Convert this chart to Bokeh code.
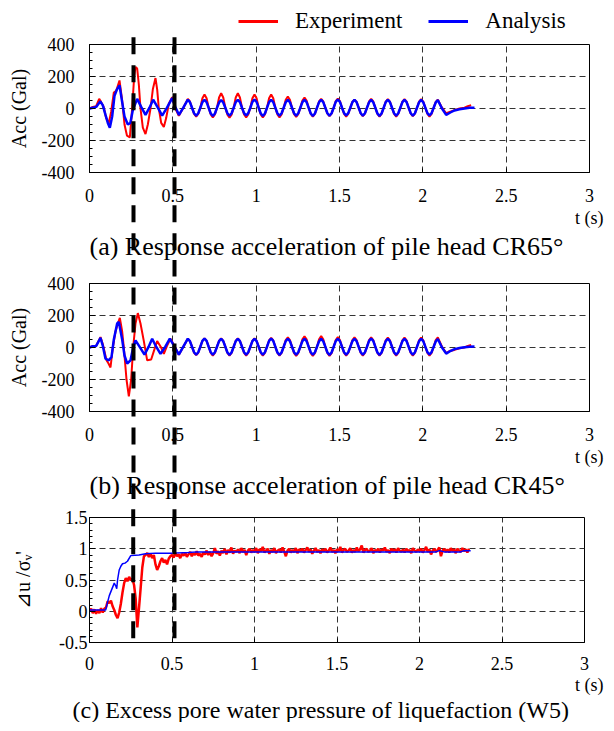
import numpy as np
from bokeh.plotting import figure
from bokeh.models import (Range1d, FixedTicker, Title, Legend, LegendItem,
                          CustomJSTickFormatter)
from bokeh.layouts import column
from bokeh.embed import file_html
from bokeh.resources import INLINE

# ---------------- data ----------------
x_ticks = [0, 0.5, 1, 1.5, 2, 2.5, 3]
x_tick_labels = ["0", "0.5", "1", "1.5", "2", "2.5", "3"]
acc_ticks = [-400, -200, 0, 200, 400]
acc_tick_labels = ["-400", "-200", "0", "200", "400"]
pwp_ticks = [-0.5, 0, 0.5, 1, 1.5]
pwp_tick_labels = ["-0.5", "0", "0.5", "1", "1.5"]

series_names = ["Experiment", "Analysis"]
captions = ["(a) Response acceleration of pile head CR65°",
            "(b) Response acceleration of pile head CR45°",
            "(c) Excess pore water pressure of liquefaction (W5)"]
acc_label = "Acc (Gal)"
pwp_label = "\u22bfu /\u03c3\u1d65'"
time_label = "t (s)"

# times of the two marked instants (s), per panel
marker_t_ab = [0.264, 0.51]
marker_t_c = [0.265, 0.515]

# steady-vibration sampling instants (s): 0.59 ... 2.09
t_cyc = [round(0.59 + 0.0125 * k, 4) for k in range(121)]

# panel (a) experiment
a_exp_head_t = [0.0, 0.02, 0.04, 0.058, 0.07, 0.085, 0.1, 0.116, 0.13, 0.146,
                0.16, 0.166, 0.18, 0.196, 0.21, 0.225, 0.242, 0.256, 0.268, 0.276,
                0.286, 0.296, 0.306, 0.32, 0.336, 0.35, 0.366, 0.38, 0.396, 0.406,
                0.416, 0.43, 0.446, 0.46, 0.476, 0.496, 0.515, 0.536, 0.563]
a_exp_head_v = [0, 10, 15, 60, 40, 10, -60, -90, -20, 100,
                110, 130, 175, 50, -100, -170, -180, 0, 200, 260,
                250, 150, 0, -120, -160, -100, 0, 120, 190, 120,
                0, -90, -115, -60, 30, 70, 0, -45, 5]
a_exp_cyc = [60, 44, 5, -34, -50, -34, 5, 64,
             88, 64, 5, -37, -55, -37, 5, 69,
             95, 69, 5, -39, -58, -39, 5, 69,
             95, 69, 5, -37, -55, -37, 5, 64,
             88, 64, 5, -37, -55, -37, 5, 64,
             88, 64, 5, -37, -55, -37, 5, 55,
             75, 55, 5, -35, -52, -35, 5, 50,
             68, 50, 5, -34, -50, -34, 5, 44,
             60, 44, 5, -32, -48, -32, 5, 46,
             62, 46, 5, -34, -50, -34, 5, 41,
             56, 41, 5, -32, -48, -32, 5, 44,
             60, 44, 5, -34, -50, -34, 5, 43,
             58, 43, 5, -34, -50, -34, 5, 43,
             58, 43, 5, -32, -48, -32, 5, 43,
             58, 43, 5, -34, -50, -34, 5, 41,
             55]
a_exp_tail_t = [2.115, 2.14, 2.165, 2.19, 2.22, 2.25, 2.27, 2.29]
a_exp_tail_v = [5, -30, -20, -10, 0, 5, 15, 20]

# panel (a) analysis
a_ana_head_t = [0.0, 0.02, 0.04, 0.065, 0.08, 0.096, 0.11, 0.122, 0.136, 0.15,
                0.165, 0.18, 0.196, 0.21, 0.23, 0.245, 0.26, 0.286, 0.31, 0.336,
                0.36, 0.382, 0.41, 0.436, 0.465, 0.496, 0.515, 0.537, 0.563]
a_ana_head_v = [0, 5, 10, 45, 20, -40, -90, -120, -50, 80,
                120, 145, 40, -50, -100, -90, -10, 60, 10, -40,
                5, 55, 5, -45, 5, 65, 10, -40, 5]
a_ana_cyc = [55, 40, 5, -30, -45, -30, 5, 40,
             55, 40, 5, -31, -46, -31, 5, 38,
             52, 38, 5, -30, -45, -30, 5, 40,
             55, 40, 5, -29, -44, -29, 5, 41,
             56, 41, 5, -31, -46, -31, 5, 40,
             55, 40, 5, -30, -45, -30, 5, 39,
             54, 39, 5, -30, -45, -30, 5, 40,
             55, 40, 5, -31, -46, -31, 5, 40,
             55, 40, 5, -30, -45, -30, 5, 41,
             56, 41, 5, -29, -44, -29, 5, 40,
             55, 40, 5, -30, -45, -30, 5, 39,
             54, 39, 5, -31, -46, -31, 5, 40,
             55, 40, 5, -30, -45, -30, 5, 40,
             55, 40, 5, -30, -45, -30, 5, 39,
             54, 39, 5, -29, -44, -29, 5, 38,
             52]
a_ana_tail_t = [2.115, 2.14, 2.165, 2.19, 2.22, 2.25, 2.28, 2.31]
a_ana_tail_v = [0, -40, -25, -12, -5, 0, 4, 5]

# panel (b) experiment
b_exp_head_t = [0.0, 0.02, 0.04, 0.066, 0.08, 0.102, 0.114, 0.126, 0.14, 0.156,
                0.17, 0.182, 0.196, 0.206, 0.222, 0.236, 0.25, 0.262, 0.276, 0.29,
                0.306, 0.326, 0.346, 0.37, 0.39, 0.406, 0.43, 0.446, 0.465, 0.486,
                0.51, 0.536, 0.563]
b_exp_head_v = [0, 10, 10, 65, 20, -80, -100, -125, 0, 100,
                150, 185, 100, 0, -200, -305, -200, 0, 150, 215,
                150, 40, -80, -75, -10, 40, 0, -40, 10, 55,
                10, -45, 5]
b_exp_cyc = [55, 40, 5, -33, -48, -33, 5, 41,
             57, 41, 5, -34, -50, -34, 5, 41,
             57, 41, 5, -34, -50, -34, 5, 41,
             57, 41, 5, -34, -50, -34, 5, 41,
             57, 41, 5, -34, -50, -34, 5, 44,
             60, 44, 5, -34, -50, -34, 5, 46,
             63, 46, 5, -35, -52, -35, 5, 51,
             70, 51, 5, -35, -52, -35, 5, 52,
             72, 52, 5, -35, -52, -35, 5, 47,
             65, 47, 5, -34, -50, -34, 5, 46,
             63, 46, 5, -34, -50, -34, 5, 46,
             63, 46, 5, -34, -50, -34, 5, 45,
             62, 45, 5, -34, -50, -34, 5, 45,
             62, 45, 5, -34, -50, -34, 5, 45,
             62, 45, 5, -34, -50, -34, 5, 46,
             63]
b_exp_tail_t = [2.115, 2.14, 2.165, 2.19, 2.22, 2.25, 2.27, 2.29]
b_exp_tail_v = [5, -35, -20, -15, -5, 0, 10, 16]

# panel (b) analysis
b_ana_head_t = [0.0, 0.02, 0.04, 0.066, 0.08, 0.096, 0.116, 0.132, 0.146, 0.166,
                0.176, 0.196, 0.21, 0.226, 0.246, 0.262, 0.276, 0.3, 0.33, 0.355,
                0.376, 0.4, 0.426, 0.455, 0.482, 0.51, 0.536, 0.563]
b_ana_head_v = [0, 8, 10, 60, 10, -70, -80, -60, 50, 150,
                160, 50, -50, -100, -80, 0, 45, 5, -45, 5,
                55, 5, -40, 5, 55, 5, -45, 5]
b_ana_cyc = [55, 40, 5, -30, -45, -30, 5, 41,
             56, 41, 5, -30, -45, -30, 5, 40,
             55, 40, 5, -31, -46, -31, 5, 40,
             55, 40, 5, -30, -45, -30, 5, 40,
             55, 40, 5, -30, -45, -30, 5, 41,
             56, 41, 5, -31, -46, -31, 5, 40,
             55, 40, 5, -30, -45, -30, 5, 40,
             55, 40, 5, -30, -45, -30, 5, 39,
             54, 39, 5, -31, -46, -31, 5, 40,
             55, 40, 5, -30, -45, -30, 5, 40,
             55, 40, 5, -30, -45, -30, 5, 41,
             56, 41, 5, -31, -46, -31, 5, 40,
             55, 40, 5, -30, -45, -30, 5, 40,
             55, 40, 5, -30, -45, -30, 5, 40,
             55, 40, 5, -29, -44, -29, 5, 38,
             53]
b_ana_tail_t = [2.115, 2.14, 2.165, 2.19, 2.22, 2.25, 2.28, 2.31]
b_ana_tail_v = [0, -38, -22, -10, -3, 2, 5, 6]

# panel (c) analysis
c_ana_t = [0.0, 0.098, 0.11, 0.12, 0.135, 0.15, 0.16, 0.165, 0.17, 0.18,
           0.19, 0.2, 0.215, 0.23, 0.25, 0.3, 0.34, 0.4, 0.5, 0.6,
           0.65, 0.8, 1.0, 1.5, 2.0, 2.1, 2.12, 2.15, 2.25, 2.27, 2.31]
c_ana_v = [0.02, 0.02, 0.15, 0.25, 0.35, 0.45, 0.4, 0.36, 0.5, 0.66,
           0.72, 0.76, 0.77, 0.8, 0.89, 0.9, 0.92, 0.93, 0.93, 0.94,
           0.95, 0.95, 0.95, 0.95, 0.95, 0.95, 0.97, 0.95, 0.95, 0.97, 0.97]

# panel (c) experiment, sampled every 0.01 s from 0 to 2.30 s
c_exp_t = [round(0.01 * k, 2) for k in range(231)]
c_exp_v = [
    0.00, 0.04, -0.03, 0.03, -0.04, 0.02, -0.03, 0.05, -0.02, 0.04,
    0.06, 0.16, 0.13, 0.17, 0.08, 0.02, -0.06, -0.11, -0.02, 0.12,
    0.30, 0.45, 0.53, 0.48, 0.55, 0.50, 0.52, 0.42, 0.20, -0.26,
    0.05, 0.37, 0.70, 0.88, 0.90, 0.93, 0.87, 0.92, 0.85, 0.90,
    0.75, 0.66, 0.72, 0.80, 0.85, 0.78, 0.82, 0.75, 0.84, 0.88,
    0.90, 0.86, 0.93, 0.88, 0.91, 0.85, 0.92, 0.89, 0.94, 0.87,
    0.91, 0.95, 0.88, 0.93, 0.90, 0.96, 0.89, 0.92, 0.87, 0.94,
    0.91, 0.97, 0.90, 0.95, 0.88, 0.93, 1.01, 0.92, 0.96, 0.89,
    0.97, 0.93, 1.00, 0.91, 0.98, 0.94, 1.02, 0.92, 0.97, 0.95,
    0.99, 0.93, 1.01, 0.95, 0.98, 0.90, 0.97, 1.00, 0.94, 0.98,
    0.95, 1.01, 0.93, 0.99, 0.96, 1.03, 0.94, 0.97, 1.00, 0.92,
    0.98, 0.95, 1.01, 0.93, 0.97, 0.99, 0.94, 1.02, 0.96, 0.88,
    0.97, 1.00, 0.94, 0.98, 0.95, 1.01, 0.93, 0.99, 0.96, 1.00,
    0.94, 0.98, 1.02, 0.95, 0.99, 0.92, 0.97, 1.01, 0.95, 0.98,
    0.93, 0.99, 0.96, 1.00, 0.94, 0.97, 1.02, 0.95, 0.98, 0.93,
    0.99, 0.96, 1.03, 0.94, 0.98, 1.00, 0.95, 0.97, 1.01, 0.94,
    0.98, 0.95, 1.02, 0.96, 0.99, 1.05, 0.94, 0.98, 1.00, 0.95,
    0.97, 1.01, 0.93, 0.98, 0.96, 1.00, 0.94, 0.99, 0.97, 1.02,
    0.95, 0.98, 0.93, 1.00, 0.96, 0.99, 0.94, 1.01, 0.97, 0.95,
    0.99, 0.94, 1.00, 0.96, 0.98, 0.93, 1.01, 0.97, 0.95, 0.99,
    0.96, 1.00, 0.94, 0.98, 1.03, 0.95, 0.99, 0.91, 0.97, 1.00,
    0.95, 0.98, 1.02, 0.88, 0.97, 1.00, 0.95, 0.99, 0.94, 1.01,
    0.96, 0.99, 0.93, 1.00, 0.97, 0.95, 1.01, 0.96, 0.99, 0.94,
    1.00]

# ---------------- styling ----------------
FONT = "Liberation Serif"
RED = "#ff0000"
BLUE = "#0000ff"
GRID = "#333333"
LEFT = 89

a_exp_t = a_exp_head_t + t_cyc + a_exp_tail_t
a_exp_v = a_exp_head_v + a_exp_cyc + a_exp_tail_v
a_ana_t = a_ana_head_t + t_cyc + a_ana_tail_t
a_ana_v = a_ana_head_v + a_ana_cyc + a_ana_tail_v


def make_panel(frame_w, frame_h, right, top, bottom,
               y_lo, y_hi, y_ticks, y_tick_labels, y_minor, ylabel,
               ylabel_standoff, ytick_standoff, xtick_standoff):
    p = figure(frame_width=frame_w, frame_height=frame_h,
               min_border_left=LEFT, min_border_right=right,
               min_border_top=top, min_border_bottom=bottom,
               x_range=Range1d(0, 3), y_range=Range1d(y_lo, y_hi),
               output_backend="svg", toolbar_location=None,
               background_fill_color="white", border_fill_color="white")
    p.outline_line_color = "black"
    p.outline_line_width = 1
    p.outline_line_alpha = 1

    fmt = CustomJSTickFormatter(code="return String(tick)")
    xt = FixedTicker(ticks=x_ticks)
    p.xaxis.ticker = xt
    p.xaxis.formatter = fmt
    p.xaxis.major_label_overrides = {t: l for t, l in zip(x_ticks, x_tick_labels)}
    p.xaxis.major_tick_in = 4
    p.xaxis.major_tick_out = 0
    p.xaxis.minor_tick_line_color = None
    p.xaxis.major_label_standoff = xtick_standoff
    p.xaxis.major_label_text_font = FONT
    p.xaxis.major_label_text_font_size = "18px"
    p.xaxis.major_label_text_color = "black"
    p.xaxis.axis_line_color = "black"

    yt = FixedTicker(ticks=y_ticks, minor_ticks=y_minor)
    p.yaxis.ticker = yt
    p.yaxis.formatter = fmt
    p.yaxis.major_label_overrides = {t: l for t, l in zip(y_ticks, y_tick_labels)}
    p.yaxis.major_tick_in = 6
    p.yaxis.major_tick_out = 0
    p.yaxis.minor_tick_in = 3
    p.yaxis.minor_tick_out = 0
    p.yaxis.major_label_standoff = ytick_standoff
    p.yaxis.major_label_text_font = FONT
    p.yaxis.major_label_text_font_size = "18px"
    p.yaxis.major_label_text_color = "black"
    p.yaxis.axis_line_color = "black"
    p.yaxis.axis_label = ylabel
    p.yaxis.axis_label_text_font = FONT
    p.yaxis.axis_label_text_font_size = "20px"
    p.yaxis.axis_label_text_font_style = "normal"
    p.yaxis.axis_label_text_color = "black"
    p.yaxis.axis_label_standoff = ylabel_standoff

    p.xgrid.ticker = xt
    p.ygrid.ticker = yt
    for g in (p.xgrid, p.ygrid):
        g.grid_line_color = GRID
        g.grid_line_dash = "6 4"
        g.grid_line_width = 1
    return p


def add_texts(p, caption, cap_offset, cap_size, ts_offset, ts_standoff):
    p.add_layout(Title(text=time_label, align="right", offset=ts_offset,
                       standoff=ts_standoff, text_font=FONT, text_font_size="18px",
                       text_font_style="normal", text_color="black"), "below")
    p.add_layout(Title(text=caption, align="left", offset=cap_offset,
                       standoff=0, text_font=FONT, text_font_size=cap_size,
                       text_font_style="normal", text_color="black"), "below")


def add_markers(p, ts, y0, y1):
    p.segment(x0=ts, y0=[y0] * len(ts), x1=ts, y1=[y1] * len(ts),
              line_color="black", line_width=4, line_dash="17 11",
              level="overlay")


acc_minor = list(np.arange(-400, 401, 50))
pwp_minor = list(np.round(np.arange(-0.5, 1.51, 0.1), 2))

# ---------------- legend strip (keys reuse panel (a) series, kept out of view) ----
pl = figure(frame_width=500, frame_height=36, min_border_left=LEFT,
            min_border_right=20, min_border_top=0, min_border_bottom=0,
            x_range=Range1d(10, 11), y_range=Range1d(5000, 6000),
            x_axis_location=None, y_axis_location=None,
            output_backend="svg", toolbar_location=None,
            background_fill_color="white", border_fill_color="white")
pl.outline_line_color = None
pl.xgrid.visible = False
pl.ygrid.visible = False
key_exp = pl.line(a_exp_t, a_exp_v, line_color=RED, line_width=3)
key_ana = pl.line(a_ana_t, a_ana_v, line_color=BLUE, line_width=3)
legend = Legend(items=[LegendItem(label=series_names[0], renderers=[key_exp]),
                       LegendItem(label=series_names[1], renderers=[key_ana])],
                location=(149, 2), orientation="horizontal",
                glyph_width=40, glyph_height=20, label_standoff=17, spacing=26,
                padding=0, margin=0, border_line_color=None,
                background_fill_alpha=0, label_text_font=FONT,
                label_text_font_size="23px", label_text_color="black")
pl.add_layout(legend)

# ---------------- panel (a) ----------------
pa = make_panel(500, 128, 20, 8, 70, -400, 400, acc_ticks, acc_tick_labels,
                acc_minor, acc_label, 9, 15, 16)
pa.line(a_exp_t, a_exp_v, line_color=RED, line_width=2)
pa.line(a_ana_t, a_ana_v, line_color=BLUE, line_width=2.5)
add_markers(pa, marker_t_ab, 445, -3000)
add_texts(pa, captions[0], 0, "26px", -14, 3)

# ---------------- panel (b) ----------------
pb = make_panel(500, 128, 20, 23, 70, -400, 400, acc_ticks, acc_tick_labels,
                acc_minor, acc_label, 9, 15, 16)
pb.line(b_exp_head_t + t_cyc + b_exp_tail_t, b_exp_head_v + b_exp_cyc + b_exp_tail_v,
        line_color=RED, line_width=2)
pb.line(b_ana_head_t + t_cyc + b_ana_tail_t, b_ana_head_v + b_ana_cyc + b_ana_tail_v,
        line_color=BLUE, line_width=2.5)
add_markers(pb, marker_t_ab, 3000, -3000)
add_texts(pb, captions[1], 0, "26px", -14, 3)

# ---------------- panel (c) ----------------
pc = make_panel(495, 125, 25, 18, 60, -0.5, 1.5, pwp_ticks, pwp_tick_labels,
                pwp_minor, pwp_label, 22, 2, 14)
pc.line(c_exp_t, c_exp_v, line_color=RED, line_width=2.5)
pc.line(c_ana_t, c_ana_v, line_color=BLUE, line_width=1.5)
add_markers(pc, marker_t_c, 20, -0.5)
add_texts(pc, captions[2], -17, "24px", -19, 0)

layout = column(pl, pa, pb, pc, spacing=0)
open("out.html", "w").write(file_html(layout, INLINE))
